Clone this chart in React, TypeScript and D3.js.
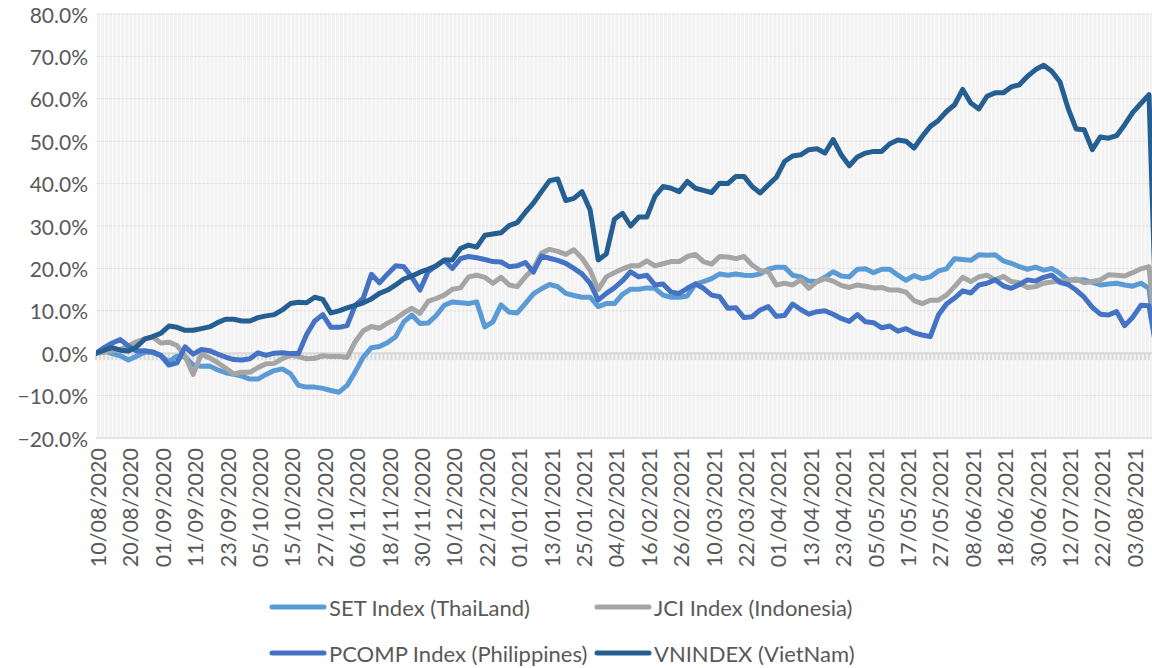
import React, { useRef, useEffect } from "react";
import * as d3 from "d3";

// one label every 8 trading days
const axisDates = [
  "10/08/2020", "20/08/2020", "01/09/2020", "11/09/2020", "23/09/2020", "05/10/2020",
  "15/10/2020", "27/10/2020", "06/11/2020", "18/11/2020", "30/11/2020", "10/12/2020",
  "22/12/2020", "01/01/2021", "13/01/2021", "25/01/2021", "04/02/2021", "16/02/2021",
  "26/02/2021", "10/03/2021", "22/03/2021", "01/04/2021", "13/04/2021", "23/04/2021",
  "05/05/2021", "17/05/2021", "27/05/2021", "08/06/2021", "18/06/2021", "30/06/2021",
  "12/07/2021", "22/07/2021", "03/08/2021",
];

// cumulative return (%), one value every 2 trading days; the last value is the empty final day
const setIndex = [
  0, 0.6, -0.1, -0.6, -1.6, -0.7, 0.2, 0.2, -0.6, -2.0, -0.7, -0.9, -2.8, -3.1, -3.0, -3.9,
  -4.6, -5.0, -5.4, -6.1, -6.1, -5.0, -4.1, -3.7, -4.8, -7.6, -8.0, -8.0, -8.3, -8.8, -9.2, -7.6,
  -4.4, -0.9, 1.3, 1.6, 2.5, 3.9, 7.4, 9.0, 7.0, 7.1, 8.9, 11.3, 12.1, 11.9, 11.7, 12.1,
  6.2, 7.4, 11.4, 9.7, 9.5, 11.7, 14.0, 15.2, 16.2, 15.7, 14.1, 13.6, 13.2, 13.2, 11.0, 11.7,
  11.7, 13.9, 15.1, 15.1, 15.4, 15.3, 13.7, 13.2, 13.2, 13.5, 16.3, 16.9, 17.6, 18.7, 18.4, 18.7,
  18.4, 18.3, 18.7, 19.8, 20.3, 20.3, 18.4, 18.0, 17.0, 16.9, 17.9, 19.2, 18.2, 18.0, 19.8, 19.9,
  19.0, 19.8, 19.8, 18.4, 17.2, 18.3, 17.6, 18.0, 19.4, 19.9, 22.3, 22.1, 21.9, 23.2, 23.1, 23.2,
  21.8, 21.2, 20.4, 19.8, 20.3, 19.6, 20.0, 18.8, 17.3, 17.2, 17.3, 16.7, 16.1, 16.3, 16.5, 16.1,
  15.8, 16.5, 15.3, 0,
];

const jciIndex = [
  0, 0.2, 0.6, 0.9, 1.7, 2.7, 3.4, 3.8, 2.4, 2.6, 1.8, -0.7, -5.0, -0.2, -1.1, -2.2,
  -3.5, -4.9, -4.5, -4.5, -3.4, -2.5, -2.4, -1.3, -0.5, -0.8, -1.3, -1.2, -0.6, -0.8, -0.7, -1.0,
  2.7, 5.3, 6.3, 5.9, 7.1, 8.1, 9.5, 10.6, 9.4, 12.2, 12.9, 13.7, 15.1, 15.4, 18.0, 18.4,
  17.9, 16.5, 17.9, 16.1, 15.7, 18.0, 19.9, 23.6, 24.5, 24.0, 23.3, 24.4, 22.4, 19.6, 15.0, 18.0,
  19.0, 19.9, 20.6, 20.6, 21.8, 20.6, 21.1, 21.6, 21.6, 22.8, 23.3, 21.6, 21.0, 22.8, 22.7, 22.3,
  22.8, 20.8, 19.5, 19.2, 16.1, 16.5, 16.1, 17.3, 15.3, 16.9, 17.6, 17.0, 16.0, 15.5, 16.1, 15.8,
  15.4, 15.5, 14.9, 14.9, 14.4, 12.4, 11.7, 12.5, 12.5, 13.7, 15.7, 17.9, 16.9, 18.0, 18.4, 17.3,
  18.1, 16.9, 16.6, 15.5, 15.7, 16.5, 16.8, 17.1, 17.1, 17.5, 16.6, 16.9, 17.3, 18.5, 18.4, 18.2,
  19.0, 19.9, 20.4, 0,
];

const pcompIndex = [
  0, 1.3, 2.4, 3.2, 1.7, 0.5, 0.6, 0.3, -0.5, -2.8, -2.3, 1.5, -0.2, 0.9, 0.6, -0.2,
  -0.9, -1.5, -1.6, -1.3, 0.1, -0.5, 0.0, 0.1, -0.1, -0.1, 4.4, 7.6, 9.1, 6.1, 6.1, 6.5,
  11.3, 13.0, 18.6, 16.6, 18.7, 20.6, 20.4, 17.9, 14.9, 19.2, 20.6, 21.9, 20.0, 22.3, 22.8, 22.5,
  22.1, 21.6, 21.5, 20.4, 20.6, 21.4, 19.1, 22.9, 22.4, 21.9, 21.2, 20.0, 18.7, 16.5, 12.5, 14.1,
  15.4, 17.1, 19.2, 18.0, 18.4, 16.1, 16.3, 14.4, 14.1, 15.3, 16.3, 15.3, 13.7, 13.3, 10.6, 10.7,
  8.4, 8.6, 10.2, 11.0, 8.7, 8.9, 11.6, 10.3, 9.2, 9.8, 10.0, 9.2, 8.2, 7.5, 9.1, 7.4,
  7.2, 6.0, 6.4, 5.2, 5.8, 4.8, 4.3, 3.9, 9.0, 11.6, 13.0, 14.7, 14.2, 16.1, 16.5, 17.3,
  15.9, 15.3, 16.2, 17.3, 17.0, 17.9, 18.4, 16.7, 16.2, 14.9, 13.2, 10.8, 9.2, 9.0, 9.8, 6.5,
  8.5, 11.3, 11.2, 0,
];

const vnIndex = [
  0, 0.7, 1.3, 0.7, 0.5, 1.5, 3.3, 3.9, 4.7, 6.4, 6.1, 5.4, 5.4, 5.8, 6.2, 7.2,
  8.0, 8.0, 7.6, 7.6, 8.4, 8.8, 9.1, 10.2, 11.7, 12.0, 11.9, 13.2, 12.7, 9.5, 10.0, 10.7,
  11.3, 11.9, 12.8, 14.1, 14.9, 16.1, 17.5, 18.2, 19.1, 19.8, 20.6, 22.0, 22.0, 24.7, 25.5, 25.0,
  27.8, 28.1, 28.4, 30.1, 30.8, 33.2, 35.4, 38.1, 40.7, 41.1, 36.0, 36.5, 38.1, 33.8, 22.0, 23.4,
  31.6, 33.0, 30.0, 32.1, 32.1, 37.0, 39.3, 38.9, 38.1, 40.5, 38.9, 38.4, 37.9, 40.1, 40.0, 41.7,
  41.7, 39.3, 37.8, 39.7, 41.5, 45.2, 46.5, 46.8, 48.0, 48.2, 47.2, 50.4, 46.8, 44.2, 46.3, 47.2,
  47.6, 47.6, 49.4, 50.3, 50.0, 48.4, 51.1, 53.5, 54.9, 57.0, 58.6, 62.2, 59.0, 57.6, 60.6, 61.4,
  61.4, 62.8, 63.3, 65.3, 66.9, 67.9, 66.5, 64.0, 57.8, 52.9, 52.7, 48.0, 51.0, 50.7, 51.3, 53.9,
  56.8, 58.9, 61.0, 0,
];

const yTicks = [-20, -10, 0, 10, 20, 30, 40, 50, 60, 70, 80];

const seriesNames = ["SET Index (ThaiLand)", "JCI Index (Indonesia)", "PCOMP Index (Philippines)", "VNINDEX (VietNam)"];
const seriesColors = ["#5b9bd5", "#a5a5a5", "#4472c4", "#255e91"];

const STEP = 2; // trading days between samples
const LAST_DAY = 262; // the empty final day sits just past the visible edge
const AXIS_DAYS = 261;
const LABEL_EVERY = 8;
const FONT = "Lato, 'Open Sans', sans-serif";

const Chart = () => {
  const svgRef = useRef(null);

  useEffect(() => {
    const svg = d3.select(svgRef.current);
    svg.selectAll("*").remove();

    const left = 96, top = 14, bottom = 438;
    const dayWidth = 4.05;

    const x = d3.scaleLinear().domain([0, AXIS_DAYS]).range([left, left + AXIS_DAYS * dayWidth]);
    const y = d3.scaleLinear().domain([-20, 80]).range([bottom, top]);
    const right = 1170;

    svg.append("defs").append("clipPath").attr("id", "plotClip")
      .append("rect").attr("x", left).attr("y", top).attr("width", right - left).attr("height", bottom - top);

    // plot background
    svg.append("rect")
      .attr("x", left).attr("y", top).attr("width", right - left).attr("height", bottom - top)
      .attr("fill", "#f2f2f2");

    // horizontal gridlines
    svg.append("g").selectAll("line").data(yTicks).join("line")
      .attr("x1", left).attr("x2", right)
      .attr("y1", (d) => y(d)).attr("y2", (d) => y(d))
      .attr("stroke", "#dedede").attr("stroke-width", 1);

    // vertical category gridlines
    const days = d3.range(0, AXIS_DAYS + 1);
    svg.append("g").selectAll("line").data(days).join("line")
      .attr("x1", (d) => x(d) + 0.5).attr("x2", (d) => x(d) + 0.5)
      .attr("y1", top).attr("y2", bottom)
      .attr("stroke", "#ffffff").attr("stroke-opacity", 0.75).attr("stroke-width", 1.2);

    // zero axis with tick marks
    svg.append("line")
      .attr("x1", left).attr("x2", right).attr("y1", y(0)).attr("y2", y(0))
      .attr("stroke", "#d9d9d9").attr("stroke-width", 2);
    svg.append("g").selectAll("line").data(days).join("line")
      .attr("x1", (d) => x(d)).attr("x2", (d) => x(d))
      .attr("y1", y(0)).attr("y2", y(0) + 7)
      .attr("stroke", "#d9d9d9").attr("stroke-width", 2);

    // bottom edge of plot
    svg.append("line")
      .attr("x1", left).attr("x2", right).attr("y1", bottom).attr("y2", bottom)
      .attr("stroke", "#d9d9d9").attr("stroke-width", 1);

    // y labels
    svg.append("g").selectAll("text").data(yTicks).join("text")
      .attr("x", 88).attr("y", (d) => y(d))
      .attr("text-anchor", "end").attr("dominant-baseline", "central")
      .attr("font-family", FONT).attr("font-size", 21).attr("fill", "#595959")
      .text((d) => d3.format(".1f")(d) + "%");

    // x labels
    svg.append("g").selectAll("text").data(axisDates).join("text")
      .attr("transform", (d, i) => `translate(${x(i * LABEL_EVERY) + 2},448) rotate(-90)`)
      .attr("text-anchor", "end").attr("dominant-baseline", "central")
      .attr("font-family", FONT).attr("font-size", 21.5).attr("fill", "#595959")
      .text((d) => d);

    // series lines
    const seriesValues = [setIndex, jciIndex, pcompIndex, vnIndex];
    const line = d3.line()
      .x((d, i) => x(Math.min(i * STEP, LAST_DAY)))
      .y((d) => y(d));

    const lines = svg.append("g").attr("clip-path", "url(#plotClip)");
    seriesValues.forEach((vals, k) => {
      lines.append("path")
        .datum(vals)
        .attr("fill", "none")
        .attr("stroke", seriesColors[k])
        .attr("stroke-width", 5)
        .attr("stroke-linejoin", "round")
        .attr("stroke-linecap", "round")
        .attr("d", line);
    });

    // legend
    const legendPos = [[272, 607], [597, 607], [272, 653], [597, 653]];
    const legend = svg.append("g");
    seriesNames.forEach((name, k) => {
      const [lx, ly] = legendPos[k];
      legend.append("line")
        .attr("x1", lx).attr("x2", lx + 52).attr("y1", ly).attr("y2", ly)
        .attr("stroke", seriesColors[k]).attr("stroke-width", 5).attr("stroke-linecap", "round");
      legend.append("text")
        .attr("x", lx + 57).attr("y", ly)
        .attr("dominant-baseline", "central")
        .attr("font-family", FONT).attr("font-size", 22).attr("fill", "#595959")
        .text(name);
    });
  }, []);

  return (
    <svg
      ref={svgRef}
      width={1152}
      height={668}
      style={{ position: "absolute", left: 0, top: 0, background: "#ffffff" }}
    ></svg>
  );
};

export default function App() {
  return <Chart />;
}
